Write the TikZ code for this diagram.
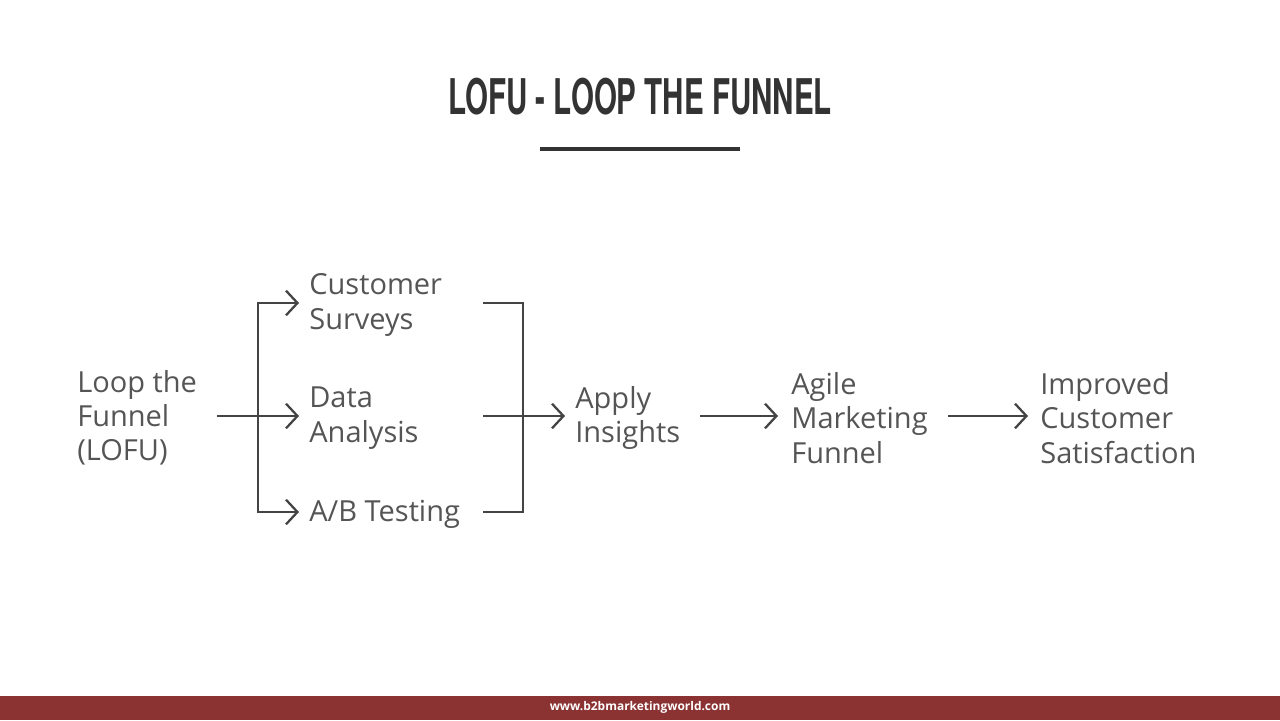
\documentclass[tikz,border=0pt]{standalone}
\usepackage{fontspec}
\setmainfont{Open Sans}
\newfontfamily\titlefont[FakeStretch=0.6]{TeX Gyre Heros}
\usetikzlibrary{arrows.meta}
\definecolor{titlegray}{HTML}{333333}
\definecolor{textgray}{HTML}{555555}
\definecolor{linegray}{HTML}{444444}
\definecolor{footred}{HTML}{8B3333}
\begin{document}
\begin{tikzpicture}[x=0.02cm,y=-0.02cm]
  \tikzset{
    every node/.style={inner sep=0pt},
    step label/.style={anchor=west,align=left,text=textgray,
      font=\fontsize{16.5}{19.5}\selectfont},
    flow/.style={draw=linegray,line width=1.3pt},
    flowarrow/.style={flow,-{Straight Barb[length=6.5pt,width=14pt,line width=1.3pt]}}
  }
  \useasboundingbox[fill=white] (0,0) rectangle (1280,720);
  % title and rule
  \node (title) at (640,97) {\titlefont\bfseries\fontsize{28}{30}\selectfont\color{titlegray}LOFU - LOOP THE FUNNEL};
  \draw [titlegray,line width=2.2pt] (540,149) -- (740,149);
  % steps
  \node [step label] (lofu) at (77,418) {Loop the\\Funnel\\(LOFU)};
  \node [step label] (surveys) at (309,305) {Customer\\Surveys};
  \node [step label] (analysis) at (309,418) {Data\\Analysis};
  \node [step label] (testing) at (309,514) {A/B Testing};
  \node [step label] (apply) at (575,418) {Apply\\Insights};
  \node [step label] (agile) at (791,418) {Agile\\Marketing\\Funnel};
  \node [step label] (improved) at (1040,418) {Improved\\Customer\\Satisfaction};
  \coordinate (split) at (258,416);
  \coordinate (merge) at (523,416);
  % connectors
  \draw [flowarrow] (217,416) -- (299,416);
  \draw [flowarrow] (split) |- (299,303);
  \draw [flowarrow] (split) |- (299,512);
  \draw [flow] (483,303) -| (merge) |- (483,512);
  \draw [flowarrow] (483,416) -- (565,416);
  \draw [flowarrow] (700,416) -- (778,416);
  \draw [flowarrow] (948,416) -- (1028,416);
  % footer
  \fill [footred] (0,696) rectangle (1280,720);
  \node (footer) at (640,707) {\color{white}\bfseries\fontsize{6.8}{8}\selectfont www.b2bmarketingworld.com};
\end{tikzpicture}
\end{document}
